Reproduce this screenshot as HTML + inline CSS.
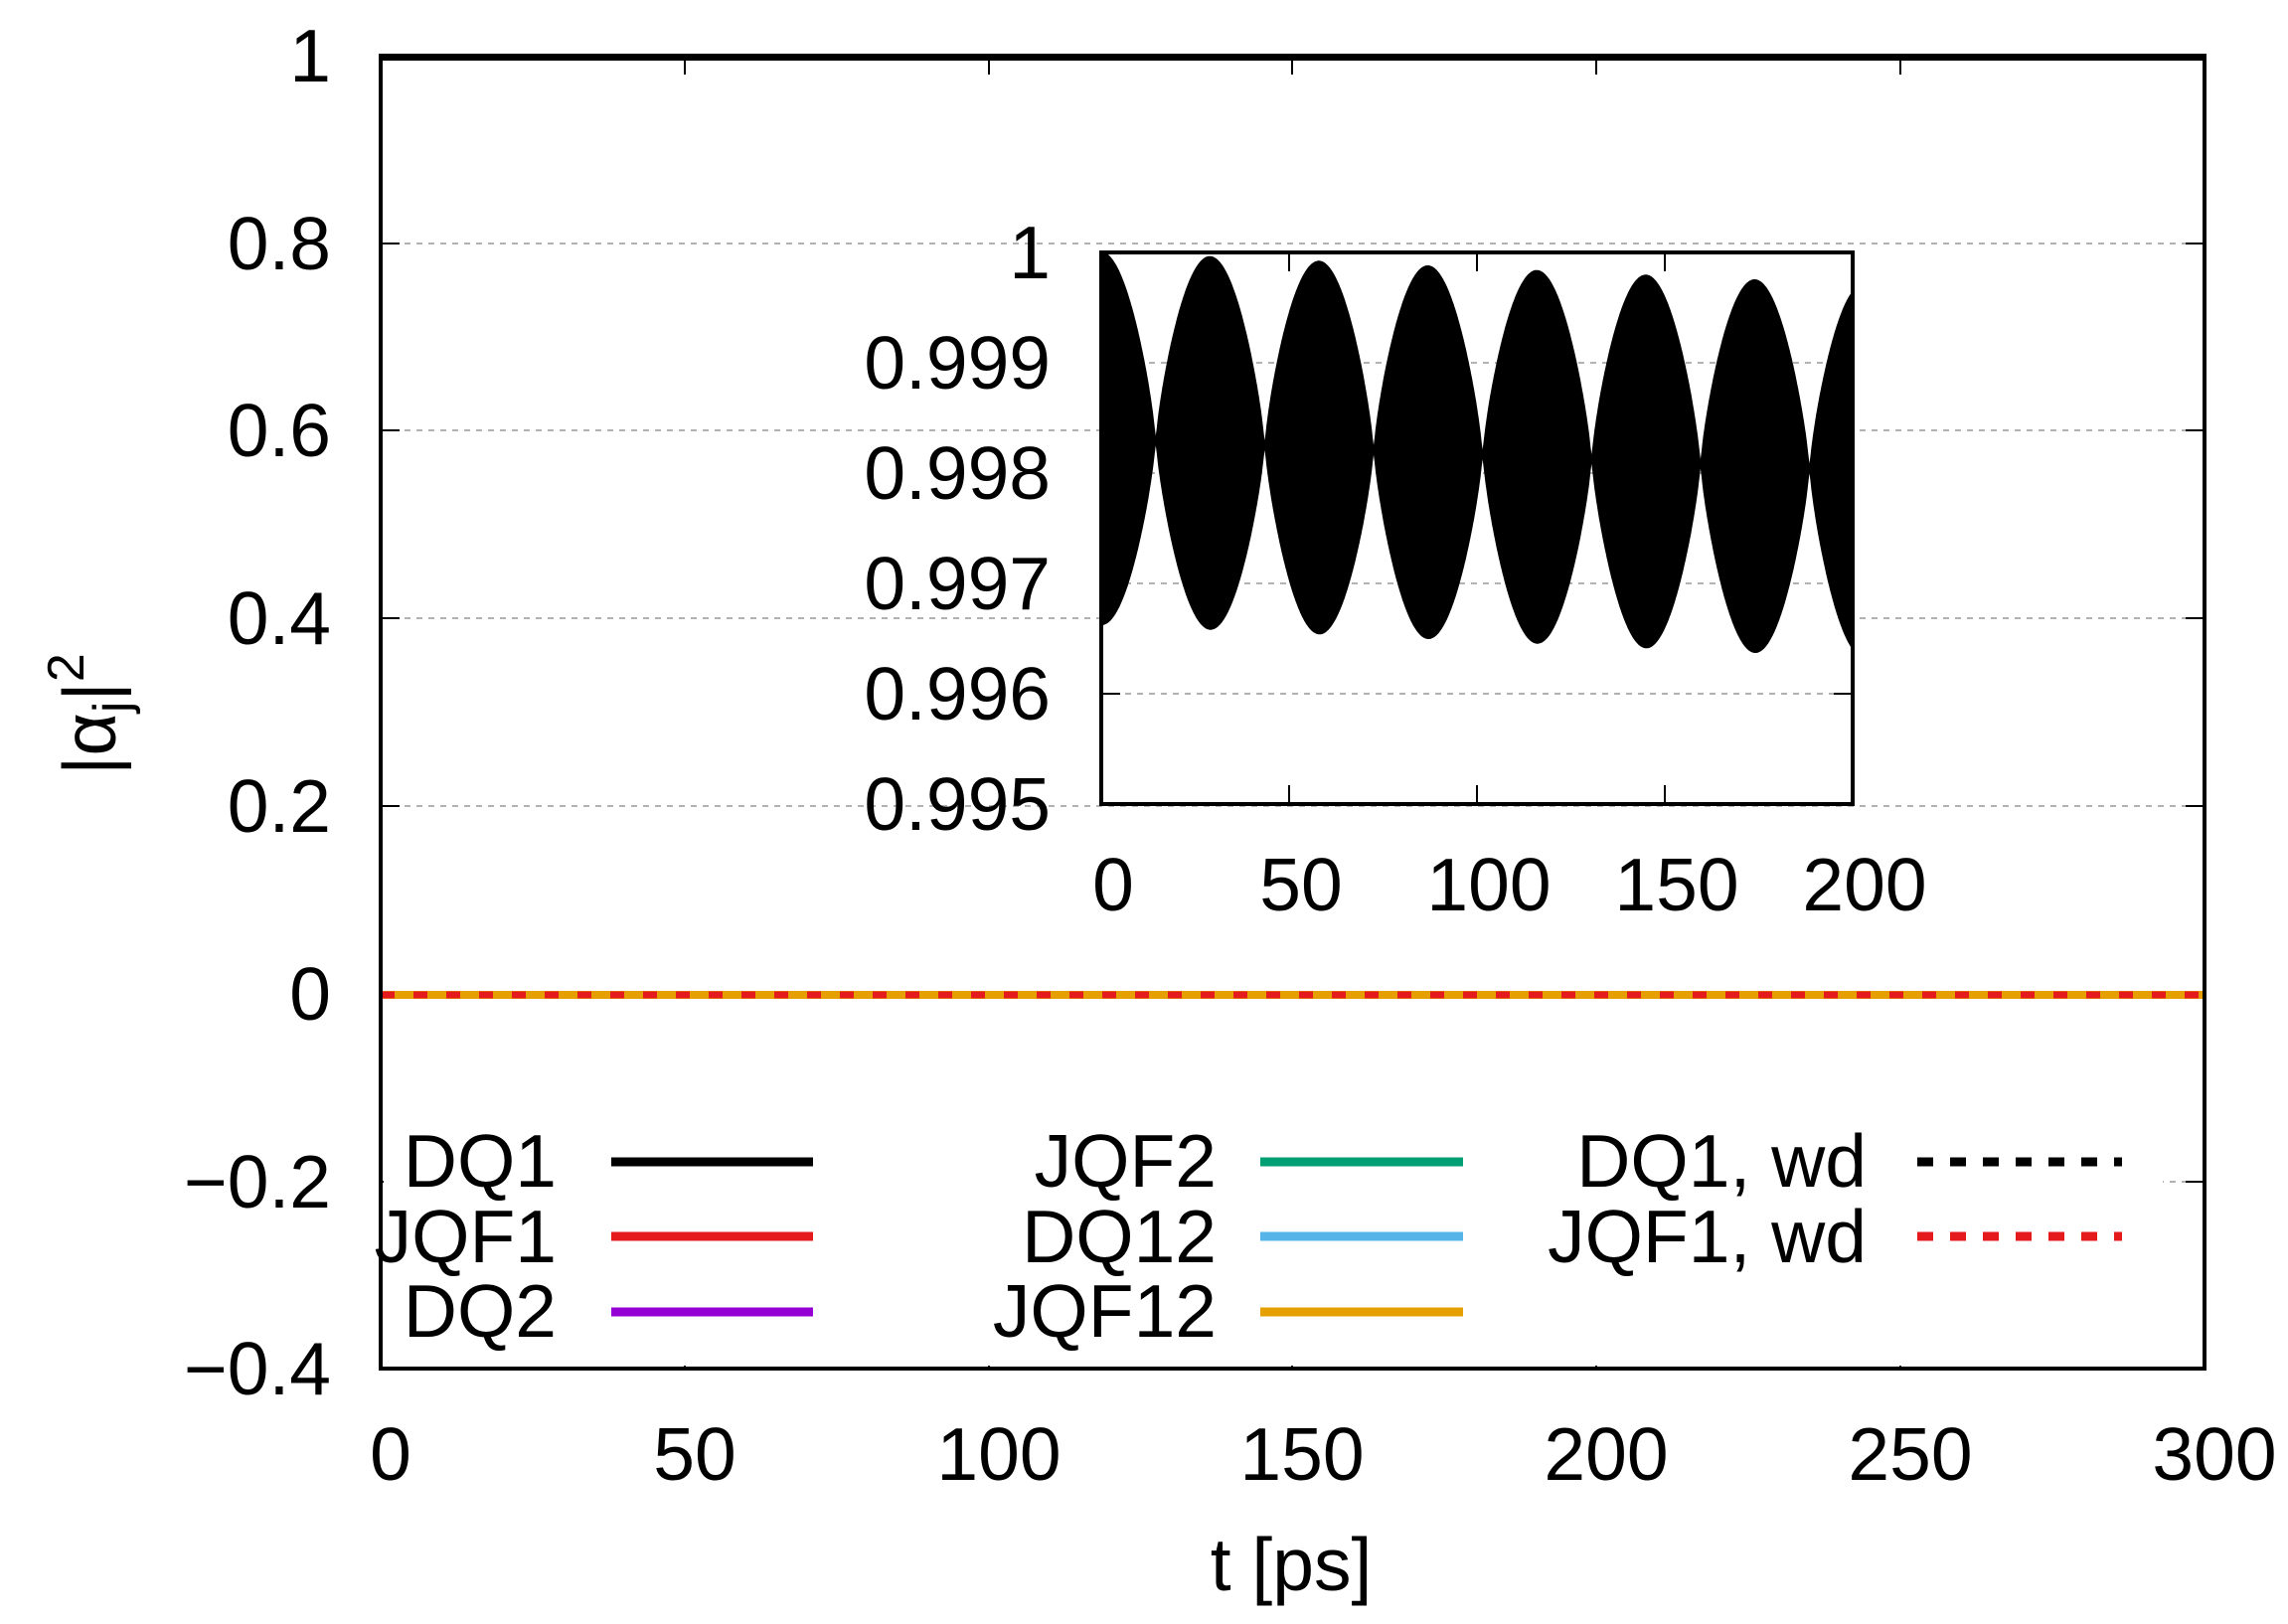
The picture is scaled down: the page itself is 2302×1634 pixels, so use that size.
<!DOCTYPE html>
<html><head><meta charset="utf-8"><style>
html,body{margin:0;padding:0;background:#fff}
svg{display:block}
text{font-family:"Liberation Sans",sans-serif;font-size:75px;fill:#000}
</style></head><body>
<svg id="s" width="2302" height="1634" viewBox="0 0 2302 1634" xmlns="http://www.w3.org/2000/svg">
<g stroke="#999" stroke-width="1.5" stroke-dasharray="6,6">
<line x1="383" x2="2218" y1="245" y2="245"/>
<line x1="383" x2="2218" y1="433" y2="433"/>
<line x1="383" x2="2218" y1="622" y2="622"/>
<line x1="383" x2="2218" y1="811" y2="811"/>
<line x1="383" x2="2218" y1="1189" y2="1189"/>
</g>
<g stroke="#000" stroke-width="2">
<path d="M383 245h19M383 433h19M383 622h19M383 811h19M383 1000h19M383 1189h19M2218 245h-19M2218 433h-19M2218 622h-19M2218 811h-19M2218 1000h-19M2218 1189h-19"/>
<path d="M689 1377v-19M995 1377v-19M1300 1377v-19M1606 1377v-19M1912 1377v-19M689 56v19M995 56v19M1300 56v19M1606 56v19M1912 56v19"/>
</g>
<line x1="383" x2="2218" y1="1001" y2="1001" stroke="#e69f00" stroke-width="8"/>
<line x1="383" x2="2218" y1="1001" y2="1001" stroke="#e41a1c" stroke-width="7" stroke-dasharray="14,19"/>
<line x1="383" x2="2218" y1="58" y2="58" stroke="#000" stroke-width="6"/>
<rect x="386" y="1110" width="1790" height="264" fill="#fff"/>
<g text-anchor="end">
<text x="560" y="1194">DQ1</text>
<text x="560" y="1270">JQF1</text>
<text x="560" y="1345">DQ2</text>
<text x="1224" y="1194">JQF2</text>
<text x="1224" y="1270">DQ12</text>
<text x="1224" y="1345">JQF12</text>
<text x="1878" y="1194">DQ1, wd</text>
<text x="1878" y="1270">JQF1, wd</text>
</g>
<g stroke-width="9">
<line x1="615" x2="818" y1="1169" y2="1169" stroke="#000"/>
<line x1="615" x2="818" y1="1244" y2="1244" stroke="#e41a1c"/>
<line x1="615" x2="818" y1="1320" y2="1320" stroke="#9400d3"/>
<line x1="1268" x2="1472" y1="1169" y2="1169" stroke="#009e73"/>
<line x1="1268" x2="1472" y1="1244" y2="1244" stroke="#56b4e9"/>
<line x1="1268" x2="1472" y1="1320" y2="1320" stroke="#e69f00"/>
<line x1="1929" x2="2135" y1="1169" y2="1169" stroke="#000" stroke-dasharray="16,17"/>
<line x1="1929" x2="2135" y1="1244" y2="1244" stroke="#e41a1c" stroke-dasharray="16,17"/>
</g>
<rect x="383" y="56" width="1835" height="1321" fill="none" stroke="#000" stroke-width="4"/>
<g text-anchor="end">
<text x="333" y="82">1</text>
<text x="333" y="271">0.8</text>
<text x="333" y="459">0.6</text>
<text x="333" y="648">0.4</text>
<text x="333" y="837">0.2</text>
<text x="333" y="1026">0</text>
<text x="333" y="1215">−0.2</text>
<text x="333" y="1403">−0.4</text>
</g>
<g text-anchor="middle">
<text x="393" y="1489">0</text>
<text x="699" y="1489">50</text>
<text x="1005" y="1489">100</text>
<text x="1310" y="1489">150</text>
<text x="1616" y="1489">200</text>
<text x="1922" y="1489">250</text>
<text x="2228" y="1489">300</text>
<text x="1299" y="1600">t [ps]</text>
</g>
<text transform="translate(116,780) rotate(-90)">|α<tspan font-size="52" dy="14">j</tspan><tspan dy="-14">|</tspan><tspan dy="-32" font-size="52">2</tspan></text>
<rect x="1108" y="254" width="756" height="555" fill="#fff"/>
<g stroke="#999" stroke-width="1.5" stroke-dasharray="6,6">
<line x1="1108" x2="1864" y1="365" y2="365"/>
<line x1="1108" x2="1864" y1="476" y2="476"/>
<line x1="1108" x2="1864" y1="587" y2="587"/>
<line x1="1108" x2="1864" y1="698" y2="698"/>
</g>
<path id="env" fill="#000"/>
<g stroke="#000" stroke-width="2">
<path d="M1108 365h19M1108 476h19M1108 587h19M1108 698h19M1864 365h-19M1864 476h-19M1864 587h-19M1864 698h-19"/>
<path d="M1297 809v-19M1486 809v-19M1675 809v-19M1297 254v19M1486 254v19M1675 254v19"/>
</g>
<rect x="1108" y="254" width="756" height="555" fill="none" stroke="#000" stroke-width="4"/>
<g text-anchor="end">
<text x="1057" y="280">1</text>
<text x="1057" y="391">0.999</text>
<text x="1057" y="502">0.998</text>
<text x="1057" y="613">0.997</text>
<text x="1057" y="724">0.996</text>
<text x="1057" y="835">0.995</text>
</g>
<g text-anchor="middle">
<text x="1120" y="916">0</text>
<text x="1309" y="916">50</text>
<text x="1498" y="916">100</text>
<text x="1687" y="916">150</text>
<text x="1876" y="916">200</text>
</g>
</svg>
<script>
var up=[],lo=[];
for(var i=0;i<=800;i++){var t=200*i/800;var x=1108+756*t/200;var c=441+28*t/174;var a=188*Math.pow(Math.abs(Math.cos(Math.PI*t/29)),0.75);a=Math.max(a,5);up.push(x.toFixed(1)+","+(c-a).toFixed(1));lo.unshift(x.toFixed(1)+","+(c+a).toFixed(1));}
document.getElementById("env").setAttribute("d","M"+up.join("L")+"L"+lo.join("L")+"Z");
</script>
</body></html>
